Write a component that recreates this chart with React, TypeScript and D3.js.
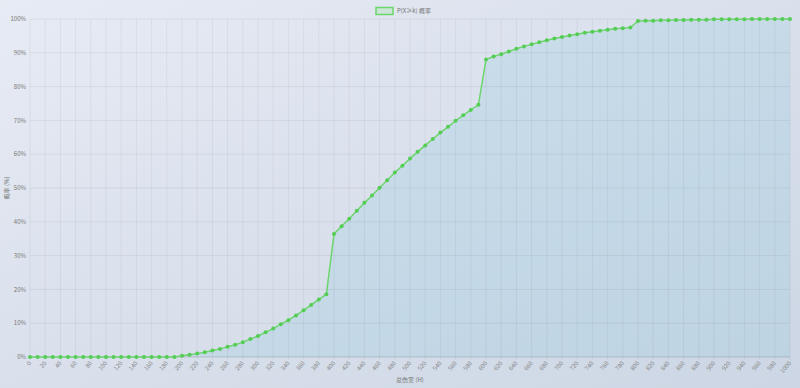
import React from "react";
import * as d3 from "d3";

const categories: number[] = d3.range(0, 1001, 10);
const probValues: number[] = [
  0, 0, 0, 0, 0, 0, 0, 0, 0, 0, 0, 0, 0, 0, 0, 0, 0, 0, 0, 0,
  0.4, 0.7, 1.0, 1.4, 1.9, 2.4, 3.0, 3.6, 4.4, 5.3, 6.2, 7.3, 8.4, 9.7, 10.9, 12.3, 13.8, 15.4, 17.0, 18.6,
  36.4, 38.7, 40.9, 43.3, 45.6, 47.8, 50.1, 52.3, 54.6, 56.6, 58.7, 60.7, 62.6, 64.5, 66.4, 68.1, 69.9, 71.5, 73.1, 74.6,
  88.0, 88.9, 89.6, 90.4, 91.2, 91.9, 92.5, 93.1, 93.7, 94.2, 94.7, 95.1, 95.5, 95.9, 96.2, 96.5, 96.8, 97.1, 97.3, 97.5,
  99.4, 99.5, 99.5, 99.6, 99.6, 99.7, 99.7, 99.8, 99.8, 99.8, 99.9, 99.9, 99.9, 99.9, 99.9, 100, 100, 100, 100, 100, 100,
];
const yTicks: number[] = [0, 10, 20, 30, 40, 50, 60, 70, 80, 90, 100];
const xTickLabels: number[] = d3.range(0, 1001, 20);
const legendLabel = "P(X≥k) 概率";
const xTitle = "总伤害 (H)";
const yTitle = "概率 (%)";

const W = 800, H = 388;
const M = { left: 30, right: 790, top: 19, bottom: 357 };
const FONT = "'Noto Sans CJK SC', 'Noto Sans', sans-serif";

export default function App() {
  const x = d3.scaleLinear().domain([0, 1000]).range([M.left, M.right]);
  const y = d3.scaleLinear().domain([0, 100]).range([M.bottom, M.top]);
  const pts = categories.map((c, i) => [c, probValues[i]] as [number, number]);
  const line = d3.line<[number, number]>().x(d => x(d[0])).y(d => y(d[1]));
  const area = d3.area<[number, number]>().x(d => x(d[0])).y0(y(0)).y1(d => y(d[1]));

  return (
    <svg width={W} height={H} style={{ position: "fixed", left: 0, top: 0 }} fontFamily={FONT}>
      <defs>
        <linearGradient id="bg" x1="0" y1="0" x2="1" y2="1">
          <stop offset="0" stopColor="#e7ebf4" />
          <stop offset="1" stopColor="#ccd6e4" />
        </linearGradient>
      </defs>
      <rect width={W} height={H} fill="url(#bg)" />
      <path d={area(pts) || ""} fill="rgba(160,205,225,0.32)" />
      {yTicks.map(t => (
        <line key={"gy" + t} x1={M.left} x2={M.right} y1={y(t)} y2={y(t)} stroke="rgba(0,0,0,0.06)" strokeWidth={1} />
      ))}
      {xTickLabels.map(t => (
        <line key={"gx" + t} x1={x(t)} x2={x(t)} y1={M.top} y2={M.bottom + 3} stroke="rgba(0,0,0,0.05)" strokeWidth={1} />
      ))}
      <line x1={M.left} x2={M.right} y1={M.bottom} y2={M.bottom} stroke="rgba(0,0,0,0.08)" />
      {yTicks.map(t => (
        <text key={"yl" + t} x={M.left - 4} y={y(t)} dy="0.35em" textAnchor="end" fontSize={6} fill="#777">{t}%</text>
      ))}
      {xTickLabels.map(t => (
        <text key={"xl" + t} transform={`translate(${x(t)},${M.bottom + 5}) rotate(-50)`} textAnchor="end" dy="0.35em" fontSize={6} fill="#888">{t}</text>
      ))}
      <path d={line(pts) || ""} fill="none" stroke="#6dd66d" strokeWidth={1.5} />
      {pts.map((p, i) => (
        <circle key={"p" + i} cx={x(p[0])} cy={y(p[1])} r={2} fill="#55cc55" />
      ))}
      <rect x={376} y={7.5} width={17} height={7} fill="rgba(170,230,170,0.35)" stroke="#6dd66d" strokeWidth={1.5} />
      <text x={397} y={11} dy="0.35em" fontSize={6} fill="#777">{legendLabel}</text>
      <text x={410} y={382} textAnchor="middle" fontSize={6} fill="#777">{xTitle}</text>
      <text transform={`translate(9,${(M.top + M.bottom) / 2}) rotate(-90)`} textAnchor="middle" fontSize={6} fill="#777">{yTitle}</text>
    </svg>
  );
}
